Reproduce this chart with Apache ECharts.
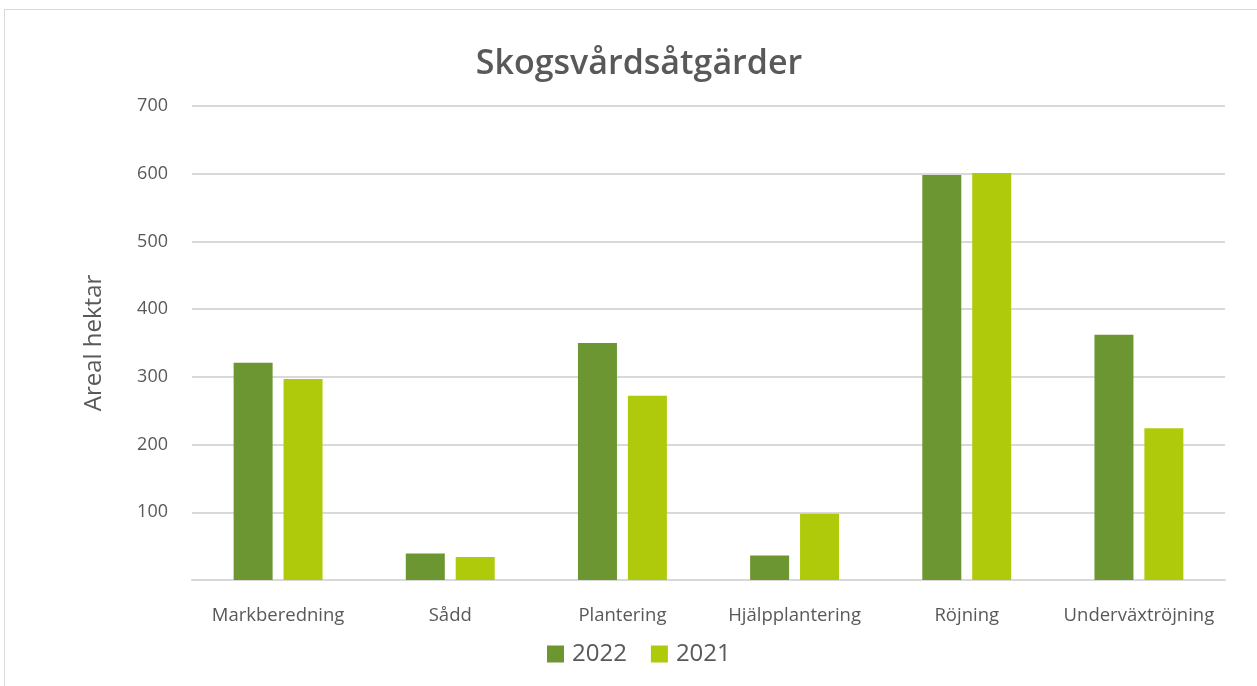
<!DOCTYPE html>
<html>
<head>
<meta charset="utf-8">
<script src="https://cdn.jsdelivr.net/npm/echarts@6/dist/echarts.min.js"></script>
<style>
html,body{margin:0;padding:0;background:#fff;}
#frame{position:absolute;left:4px;top:9px;width:1260px;height:690px;border:1px solid #d9d9d9;box-sizing:border-box;}
#chart{position:absolute;left:0;top:0;width:1257px;height:686px;}
</style>
</head>
<body>
<div id="frame"></div>
<div id="chart"></div>
<script>
const categories = ['Markberedning', 'Sådd', 'Plantering', 'Hjälpplantering', 'Röjning', 'Underväxtröjning'];
const series2022 = [321, 39, 350, 36, 598, 362];
const series2021 = [297, 34, 272, 98, 601, 224];
const seriesNames = ['2022', '2021'];
const yTicks = [0, 100, 200, 300, 400, 500, 600, 700];

const chart = echarts.init(document.getElementById('chart'), null, {renderer: 'canvas'});
const font = '"Open Sans", "Noto Sans", sans-serif';
chart.setOption({
  animation: false,
  title: {
    text: 'Skogsvårdsåtgärder',
    left: 634, top: 42, textAlign: 'center',
    textStyle: {fontFamily: font, fontSize: 34, fontWeight: 600, color: '#595959'}
  },
  legend: {
    data: seriesNames,
    left: 542, top: 637,
    itemWidth: 17, itemHeight: 17, itemGap: 24,
    icon: 'rect',
    textStyle: {fontFamily: font, fontSize: 24, color: '#595959', padding: [0, 0, 0, 3]}
  },
  grid: {left: 192, right: 32, top: 106, bottom: 106, containLabel: false},
  xAxis: {
    type: 'category',
    data: categories,
    axisLine: {lineStyle: {color: '#d9d9d9', width: 2}},
    axisTick: {show: false},
    axisLabel: {fontFamily: font, fontSize: 18.5, color: '#595959', margin: 26, interval: 0}
  },
  yAxis: {
    type: 'value',
    min: yTicks[0], max: yTicks[yTicks.length - 1], interval: 100,
    name: 'Areal hektar',
    nameLocation: 'middle', nameGap: 86, nameRotate: 90,
    nameTextStyle: {fontFamily: font, fontSize: 24, color: '#595959'},
    axisLine: {show: false},
    axisTick: {show: false},
    axisLabel: {
      fontFamily: font, fontSize: 18, color: '#595959', margin: 24,
      formatter: v => v === 0 ? '' : String(v)
    },
    splitLine: {lineStyle: {color: '#d9d9d9', width: 2}}
  },
  series: [
    {name: seriesNames[0], type: 'bar', data: series2022, barWidth: 39, barGap: '28%',
     itemStyle: {color: '#6b9632'}},
    {name: seriesNames[1], type: 'bar', data: series2021, barWidth: 39, barGap: '28%',
     itemStyle: {color: '#afca0b'}}
  ]
});
</script>
</body>
</html>
